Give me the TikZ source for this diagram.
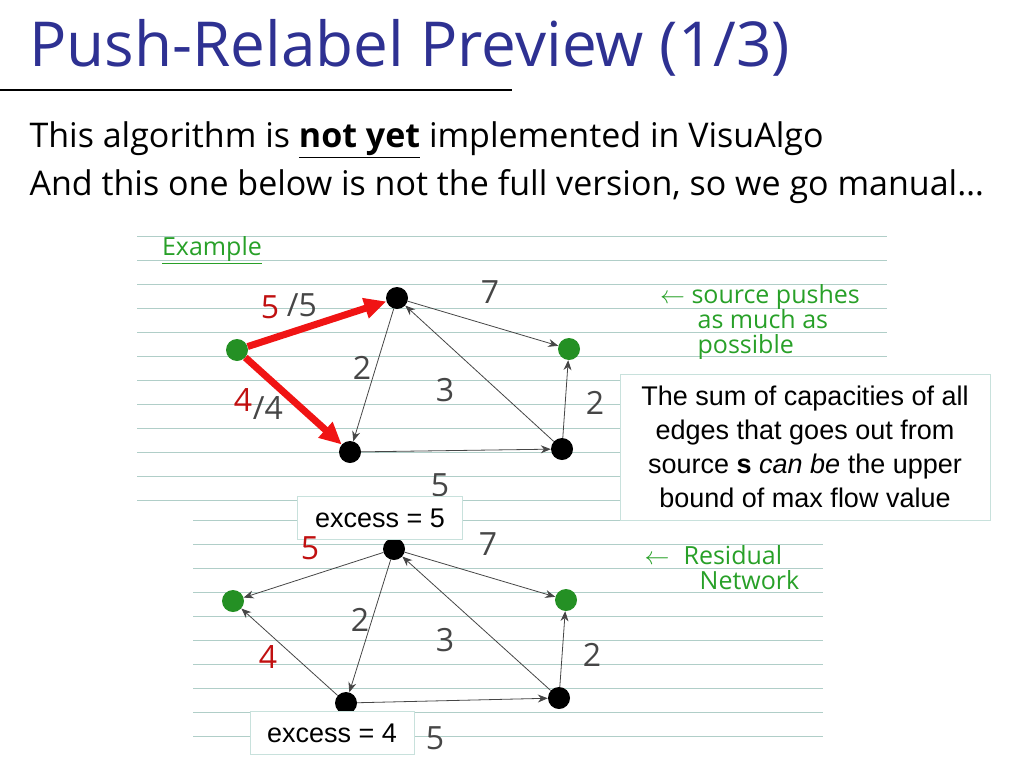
\documentclass[tikz,border=0pt]{standalone}
\usepackage{fontspec}
\setmainfont{Open Sans}
\newfontfamily\boxfont{Liberation Sans}
\usetikzlibrary{arrows.meta}
\definecolor{titleblue}{RGB}{46,49,146}
\definecolor{ruled}{RGB}{176,206,200}
\definecolor{penred}{RGB}{240,20,20}
\definecolor{pengreen}{RGB}{40,160,40}
\definecolor{pengray}{RGB}{70,70,70}
\definecolor{boxline}{RGB}{200,225,220}
\tikzset{
  vtx/.style={circle,fill=black,inner sep=0pt,minimum size=22pt},
  stv/.style={vtx,fill=pengreen!90!black},
  edge/.style={-{Stealth[length=10pt,width=8pt]},line width=0.8pt,draw=pengray},
  push/.style={-{Triangle[length=22pt,width=20pt]},line width=7pt,draw=penred},
  hand/.style={font=\fontsize{32}{32}\selectfont,text=pengray},
  redhand/.style={font=\fontsize{32}{32}\selectfont,text=penred!80!black},
  note/.style={font=\fontsize{25}{25}\selectfont,text=pengreen,align=left},
  infobox/.style={draw=boxline,line width=0.8pt,fill=white,font=\boxfont\fontsize{27}{34}\selectfont,align=center,inner sep=6pt}
}
\begin{document}
\begin{tikzpicture}[x=1pt,y=-1pt]
\useasboundingbox (0,0) rectangle (1024,768);

% title and text
\node[anchor=west,text=titleblue,font=\fontsize{62}{62}\selectfont] (title) at (26,48) {Push-Relabel Preview (1/3)};
\draw[line width=1.2pt] (0,90) -- (512,90);
\node[anchor=west,font=\fontsize{34}{34}\selectfont] (line1) at (26,140) {This algorithm is \underline{\textbf{not yet}} implemented in VisuAlgo};
\node[anchor=west,font=\fontsize{34}{34}\selectfont] (line2) at (26,187) {And this one below is not the full version, so we go manual\dots};

% ruled paper
\foreach \y in {236,260,...,500} \draw[ruled,line width=0.8pt] (137,\y) -- (887,\y);
\foreach \y in {520,544,...,748} \draw[ruled,line width=0.8pt] (193,\y) -- (823,\y);

% top graph
\node[stv] (s1) at (237,350) {};
\node[vtx] (a1) at (397,298) {};
\node[vtx] (b1) at (350,452) {};
\node[vtx] (c1) at (562,449) {};
\node[stv] (t1) at (569,349) {};
\draw[edge] (a1) -- (t1);
\draw[edge] (a1) -- (b1);
\draw[edge] (c1) -- (a1);
\draw[edge] (b1) -- (c1);
\draw[edge] (c1) -- (t1);
\draw[push] (s1) -- (a1);
\draw[push] (s1) -- (b1);
\node[redhand] (f51) at (270,307) {5};
\node[hand] (c51) at (302,305) {/5};
\node[redhand] (f41) at (243,400) {4};
\node[hand] (c41) at (268,408) {/4};
\node[hand] (w71) at (490,292) {7};
\node[hand] (w21) at (362,368) {2};
\node[hand] (w31) at (445,390) {3};
\node[hand] (w22) at (595,403) {2};
\node[hand] (w51) at (440,485) {5};
\node[note] (ex) at (212,250) {\underline{Example}};
\node[note] (src) at (760,322) {$\leftarrow$ source pushes\\\hspace{1.5em}as much as\\\hspace{1.5em}possible};
\node[infobox,minimum width=370pt,minimum height=146pt] (sum) at (805,447)
  {The sum of capacities of all\\edges that goes out from\\source \textbf{s} \textit{can be} the upper\\bound of max flow value};

% bottom graph (residual)
\node[stv] (s2) at (233,601) {};
\node[vtx] (a2) at (394,549) {};
\node[vtx] (b2) at (346,703) {};
\node[vtx] (c2) at (559,698) {};
\node[stv] (t2) at (566,600) {};
\draw[edge] (a2) -- (s2);
\draw[edge] (b2) -- (s2);
\draw[edge] (a2) -- (t2);
\draw[edge] (a2) -- (b2);
\draw[edge] (c2) -- (a2);
\draw[edge] (b2) -- (c2);
\draw[edge] (c2) -- (t2);
\node[hand] (w72) at (488,544) {7};
\node[hand] (w23) at (360,620) {2};
\node[hand] (w32) at (445,640) {3};
\node[hand] (w24) at (592,655) {2};
\node[hand] (w52) at (435,738) {5};
\node[infobox,minimum width=165pt,minimum height=43pt] (ex5) at (380,518) {excess = 5};
\node[infobox,minimum width=164pt,minimum height=43pt] (ex4) at (332,733) {excess = 4};
\node[redhand] (r5) at (310,548) {5};
\node[redhand] (r4) at (268,657) {4};
\node[note] (res) at (722,568) {$\leftarrow$ \hspace{0.3em}Residual\\\hspace{2.2em}Network};
\end{tikzpicture}
\end{document}
